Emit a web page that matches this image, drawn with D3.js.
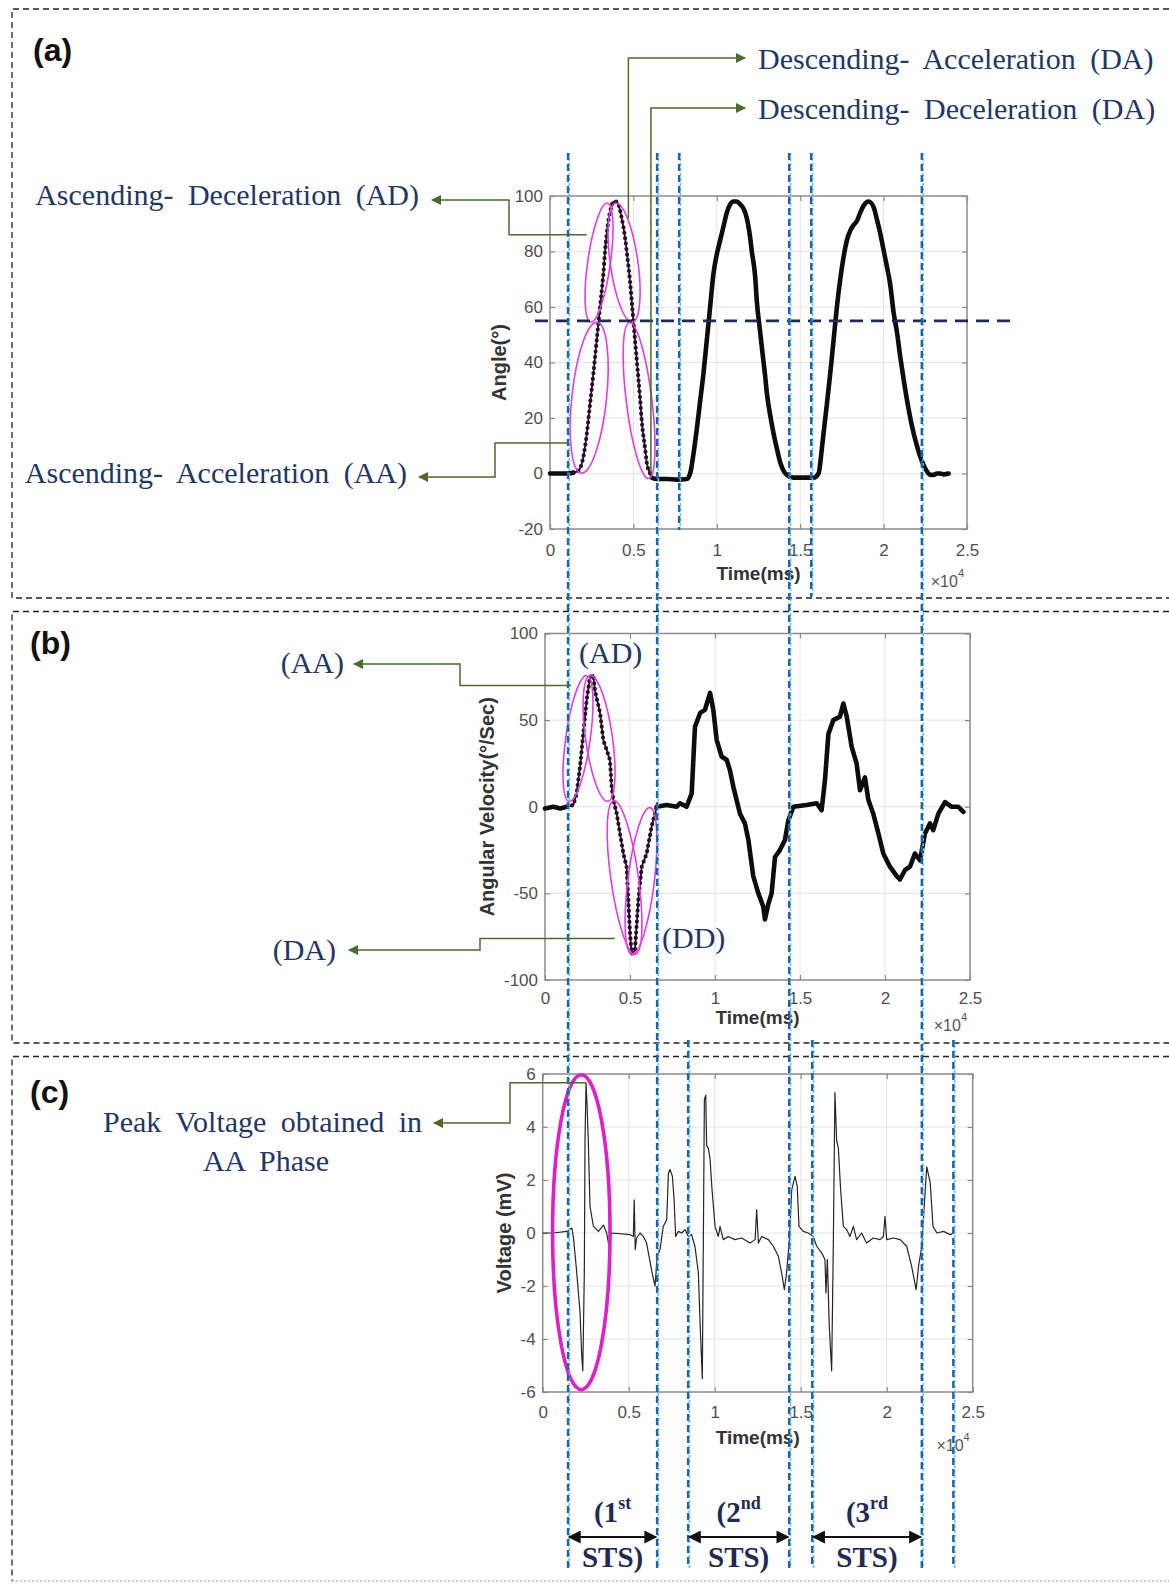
<!DOCTYPE html>
<html>
<head>
<meta charset="utf-8">
<title>Sit-to-stand phases: knee angle, angular velocity and EMG</title>
<script src="https://cdn.jsdelivr.net/npm/d3@7/dist/d3.min.js"></script>
<style>
  html, body { margin: 0; padding: 0; background: #fff; }
  svg { display: block; }
</style>
</head>
<body>
<svg id="fig" width="1169" height="1584" xmlns="http://www.w3.org/2000/svg"></svg>
<script>
// ---------------- data (time in ×10^4 ms) ----------------
const timeTicks = [0, 0.5, 1, 1.5, 2, 2.5];
const angleTicks = [-20, 0, 20, 40, 60, 80, 100];
const velocityTicks = [-100, -50, 0, 50, 100];
const voltageTicks = [-6, -4, -2, 0, 2, 4, 6];

// (a) knee angle, degrees
const angleTime = [0,0.05,0.10,0.14,0.17,0.20,0.22,0.24,0.26,0.28,
  0.30,0.32,0.33,0.35,0.37,0.38,0.40,0.41,0.43,0.45,
  0.46,0.48,0.49,0.51,0.52,0.54,0.55,0.57,0.58,0.60,
  0.61,0.64,0.70,0.76,0.82,0.84,0.86,0.88,0.90,0.92,
  0.94,0.96,0.98,1.00,1.02,1.04,1.06,1.08,1.10,1.12,
  1.14,1.16,1.18,1.20,1.21,1.23,1.24,1.26,1.27,1.29,
  1.30,1.32,1.34,1.36,1.38,1.40,1.42,1.46,1.52,1.58,
  1.61,1.63,1.64,1.66,1.68,1.70,1.72,1.74,1.76,1.78,
  1.80,1.82,1.84,1.86,1.88,1.91,1.94,1.96,1.98,2.00,
  2.02,2.04,2.06,2.08,2.10,2.12,2.14,2.16,2.18,2.20,
  2.22,2.24,2.26,2.28,2.30,2.32,2.34,2.36,2.39];
const angleDeg = [0,0,0,0.3,1,6,14,25,36,48,
  60,72,80,91,96.5,98,98,97,92,85,
  80,69,62,48,41,27,19,9,4,0,
  -1.5,-2,-2,-2.2,-2,0,7,16,26,36,
  48,60,72,79,84,89,94,97,98,98,
  97,95.5,92,85,80,71,62,51,45.5,35,
  29,21,14.5,9,4,1,-0.5,-1.5,-1.5,-1.5,
  0,9,14.5,25,36,48,60,70,78,84,
  87.5,89.5,91,94,96.5,98,96,91.5,86.5,80.5,
  74.5,68,58,51,42,34,26.5,20,14.5,10,
  6,3,0.7,-0.5,-0.5,0,0,-0.3,0];

// (b) angular velocity, degrees per second
const velocityTime = [0,0.05,0.09,0.127,0.167,0.186,0.206,0.225,0.245,0.265,
  0.284,0.294,0.324,0.343,0.363,0.382,0.392,0.402,0.422,0.441,
  0.461,0.48,0.49,0.5,0.51,0.529,0.549,0.569,0.598,0.627,
  0.657,0.716,0.775,0.794,0.833,0.863,0.882,0.912,0.941,0.971,
  0.99,1.01,1.039,1.069,1.088,1.108,1.147,1.176,1.196,1.225,
  1.255,1.284,1.294,1.314,1.333,1.353,1.382,1.412,1.431,1.461,
  1.539,1.598,1.627,1.647,1.667,1.696,1.735,1.755,1.775,1.804,
  1.833,1.853,1.882,1.902,1.931,1.961,1.99,2.029,2.069,2.088,
  2.118,2.147,2.176,2.206,2.235,2.265,2.284,2.314,2.353,2.392,
  2.431,2.461];
const velocityDegS = [-1,0,-1,0,1,7.7,23,42,61.5,75,
  76,67,54,38.5,32.7,27,11.5,4,-4,-15.4,
  -27,-34.6,-54,-73,-85,-83,-54,-34.6,-27,-11.5,
  0,1,0,2,0,7.7,46,54,56,65.7,
  56,38.5,29,27,21,11.5,-4,-9.6,-19,-40,
  -50,-57.7,-65,-56,-50,-29,-25,-19,-8,0,
  1,2,-2,15.4,42,50,52,59.6,52,34.6,
  25,9.6,17,4,-4,-15.4,-27,-34.6,-40,-42,
  -36.5,-34.6,-27,-31,-15.4,-9.6,-13.5,-4,2.7,0,
  0,-3];

// (c) EMG voltage, mV
const voltageTime = [0,0.062,0.14,0.17,0.18,0.198,0.217,0.227,0.233,0.236,
  0.242,0.246,0.252,0.258,0.265,0.275,0.295,0.324,0.353,0.372,
  0.382,0.401,0.507,0.527,0.532,0.538,0.546,0.566,0.585,0.604,
  0.633,0.653,0.666,0.682,0.701,0.721,0.731,0.740,0.754,0.764,
  0.773,0.789,0.808,0.827,0.847,0.866,0.885,0.905,0.915,0.928,
  0.934,0.940,0.948,0.953,0.963,0.973,0.983,1.002,1.021,1.031,
  1.05,1.079,1.118,1.157,1.205,1.235,1.244,1.254,1.273,1.312,
  1.341,1.370,1.389,1.405,1.418,1.434,1.448,1.467,1.48,1.49,
  1.515,1.544,1.573,1.593,1.622,1.641,1.647,1.655,1.666,1.68,
  1.69,1.699,1.709,1.719,1.732,1.748,1.767,1.786,1.806,1.825,
  1.854,1.883,1.922,1.961,1.981,1.99,2.0,2.039,2.078,2.116,
  2.145,2.171,2.185,2.204,2.218,2.233,2.253,2.269,2.292,2.33,
  2.369,2.389];
const voltageMv = [0,0,0.06,0.19,-0.25,-1.5,-3,-4.65,-5.2,-4,
  -1.5,3.5,5.67,4.8,3.5,1.0,0.25,0.06,0.3,0,
  -0.38,0,-0.06,-0.13,1.25,-0.63,-0.19,0,-0.13,-0.38,
  -1.4,-2.0,-0.88,-0.63,0.25,0.5,2.26,2.4,2.14,1.25,
  -0.13,0.06,0,0.13,-0.13,-0.06,-0.5,-1.5,-3.4,-5.5,
  -0.25,5.03,5.2,3.3,3.2,2.8,1.76,0.25,-0.13,0.25,
  -0.25,-0.13,-0.25,-0.19,-0.38,-0.25,0.88,-0.38,-0.13,-0.25,
  -0.5,-0.88,-1.5,-2.14,-1.5,-0.25,1.64,2.14,1.76,0.25,
  0.06,0,-0.13,-0.5,-0.75,-1.0,-2.26,-1.0,-3.5,-5.2,
  -0.25,5.3,3.5,3.2,1.64,0.25,0.13,-0.13,0.25,-0.25,
  0,-0.38,-0.19,-0.25,-0.13,0.63,-0.25,-0.19,-0.25,-0.5,
  -1.26,-2.14,-1.26,-0.5,1.0,2.5,1.89,0.25,0,0.06,
  -0.06,0];

// knee-angle threshold separating acceleration / deceleration halves
const angleThreshold = 55;
// phase boundaries (×10^4 ms, on the angle time axis)
const cycleBounds = [0.108, 0.642, 1.434, 2.229];   // run through all panels
const angleOnlyBounds = [0.774, 1.566];             // panel (a) only
const emgBounds = [0.828, 1.572, 2.418];            // panel (c) and below
// sit-to-stand repetitions: [start boundary, end boundary, ordinal, suffix]
const stsRanges = [[0.108, 0.642, "1", "st"], [0.828, 1.434, "2", "nd"], [1.572, 2.229, "3", "rd"]];

// phase ellipses: centre (t, v), half extents (dt, dv), tilt in degrees
const angleEllipses = [
  {t: 0.235, v: 27.3, dt: 0.104, dv: 27.3, tilt: 6},   // AA
  {t: 0.294, v: 76.0, dt: 0.068, dv: 21.6, tilt: 8},   // AD
  {t: 0.444, v: 76.0, dt: 0.083, dv: 21.6, tilt: -8},  // DA
  {t: 0.534, v: 26.3, dt: 0.077, dv: 28.3, tilt: -7}   // DD
];
const velocityEllipses = [
  {t: 0.194, v: 39.4, dt: 0.072, dv: 36.6, tilt: 8},
  {t: 0.318, v: 39.4, dt: 0.079, dv: 36.6, tilt: -8},
  {t: 0.468, v: -40.9, dt: 0.081, dv: 44.7, tilt: -8},
  {t: 0.565, v: -42.9, dt: 0.078, dv: 42.7, tilt: 7}
];
const voltageEllipses = [
  {t: 0.2244, v: 0.03, dt: 0.167, dv: 5.94, tilt: 0}
];

// ---------------- drawing ----------------
const fig = d3.select('#fig');
const navy = '#1f3766';
const leaderGreen = '#4b6a2c';
const axisGrey = '#8a8a8a';

fig.append('rect').attr('width', 1169).attr('height', 1584).attr('fill', '#fff');

const defs = fig.append('defs');
function arrowMarker(id, color, w, h) {
  defs.append('marker').attr('id', id)
    .attr('viewBox', '0 0 10 10').attr('refX', 9).attr('refY', 5)
    .attr('markerWidth', w).attr('markerHeight', h)
    .attr('markerUnits', 'userSpaceOnUse').attr('orient', 'auto-start-reverse')
    .append('path').attr('d', 'M0,0 L10,5 L0,10 Z').attr('fill', color);
}
arrowMarker('arrowGreen', leaderGreen, 13, 10);
arrowMarker('arrowBlack', '#111', 16, 13);

// dashed frames round each panel (open on the right-hand side)
const frames = [{y0: 9, y1: 598}, {y0: 611.5, y1: 1043}, {y0: 1056.5, y1: null}];
frames.forEach(f => {
  const d = f.y1 === null
    ? `M1169,${f.y0} H12 V1581`
    : `M1169,${f.y0} H12 V${f.y1} H1169`;
  fig.append('path').attr('d', d)
    .attr('fill', 'none').attr('stroke', '#222').attr('stroke-width', 1.3)
    .attr('stroke-dasharray', '6,4');
});
fig.append('line').attr('x1', 12).attr('x2', 1169).attr('y1', 1581).attr('y2', 1581)
  .attr('stroke', '#9a9a9a').attr('stroke-width', 1).attr('stroke-dasharray', '2,2');

const panels = {
  a: {left: 550, right: 967, top: 196, bottom: 529, domain: [-20, 100], ticks: angleTicks,
      title: 'Angle(°)', titleX: 499, xPad: 15, timeY: 573},
  b: {left: 545, right: 970, top: 633.5, bottom: 980, domain: [-100, 100], ticks: velocityTicks,
      title: 'Angular Velocity(°/Sec)', titleX: 487, xPad: 12, timeY: 1017},
  c: {left: 542.7, right: 972.7, top: 1074, bottom: 1392, domain: [-6, 6], ticks: voltageTicks,
      title: 'Voltage (mV)', titleX: 504, xPad: 14, timeY: 1437}
};

// plain hyphen-minus labels, as MATLAB prints them
const tickFmt = d => String(d);

Object.values(panels).forEach(p => {
  p.x = d3.scaleLinear().domain([0, 2.5]).range([p.left, p.right]);
  p.y = d3.scaleLinear().domain(p.domain).range([p.bottom, p.top]);
  const g = fig.append('g');

  // grid
  g.append('g').selectAll('line').data(timeTicks.slice(1, -1)).join('line')
    .attr('x1', d => p.x(d)).attr('x2', d => p.x(d))
    .attr('y1', p.top).attr('y2', p.bottom)
    .attr('stroke', '#e4e4e4').attr('stroke-width', 1);
  g.append('g').selectAll('line').data(p.ticks.slice(1, -1)).join('line')
    .attr('y1', d => p.y(d)).attr('y2', d => p.y(d))
    .attr('x1', p.left).attr('x2', p.right)
    .attr('stroke', '#e4e4e4').attr('stroke-width', 1);

  const styleAxis = sel => {
    sel.select('.domain').remove();
    sel.selectAll('line').attr('stroke', axisGrey).attr('stroke-width', 1.2);
    sel.selectAll('text').attr('fill', '#4f4f4f')
      .style('font-family', '"Liberation Sans", Arial, sans-serif').style('font-size', '17px');
  };
  g.append('g').attr('transform', `translate(0,${p.bottom})`)
    .call(d3.axisBottom(p.x).tickValues(timeTicks).tickSize(-5).tickPadding(p.xPad).tickFormat(tickFmt))
    .call(styleAxis);
  g.append('g').attr('transform', `translate(0,${p.top})`)
    .call(d3.axisTop(p.x).tickValues(timeTicks).tickSize(-5).tickFormat(''))
    .call(styleAxis);
  g.append('g').attr('transform', `translate(${p.left},0)`)
    .call(d3.axisLeft(p.y).tickValues(p.ticks).tickSize(-5).tickPadding(7).tickFormat(tickFmt))
    .call(styleAxis);
  g.append('g').attr('transform', `translate(${p.right},0)`)
    .call(d3.axisRight(p.y).tickValues(p.ticks).tickSize(-5).tickFormat(''))
    .call(styleAxis);

  g.append('rect').attr('x', p.left).attr('y', p.top)
    .attr('width', p.right - p.left).attr('height', p.bottom - p.top)
    .attr('fill', 'none').attr('stroke', axisGrey).attr('stroke-width', 1.5);

  // axis titles
  g.append('text').attr('x', (p.left + p.right) / 2).attr('y', p.timeY)
    .attr('text-anchor', 'middle').attr('dominant-baseline', 'central')
    .style('font-family', '"Liberation Sans", Arial, sans-serif').style('font-size', '19px')
    .style('font-weight', 'bold').attr('fill', '#333').text('Time(ms)');
  const mult = g.append('text').attr('x', p.right - 3).attr('y', p.timeY + 8)
    .attr('text-anchor', 'end').attr('dominant-baseline', 'central')
    .style('font-family', '"Liberation Sans", Arial, sans-serif').style('font-size', '16px')
    .attr('fill', '#555');
  mult.append('tspan').text('×10');
  mult.append('tspan').attr('dy', -8).style('font-size', '11px').text('4');

  g.append('text')
    .attr('transform', `translate(${p.titleX},${(p.top + p.bottom) / 2}) rotate(-90)`)
    .attr('text-anchor', 'middle').attr('dominant-baseline', 'central')
    .style('font-family', '"Liberation Sans", Arial, sans-serif').style('font-size', '20px')
    .style('font-weight', 'bold').attr('fill', '#333').text(p.title);
});

const A = panels.a, B = panels.b, C = panels.c;

// traces: the first repetition is drawn thin with sample dots, the rest as a heavy line
function drawTrace(p, ts, vs, firstFrom, firstTo, curve) {
  const pts = ts.map((t, i) => [t, vs[i]]);
  const line = d3.line().x(d => p.x(d[0])).y(d => p.y(d[1])).curve(curve);
  fig.append('path')
    .attr('d', line.defined(d => !(d[0] > firstFrom && d[0] < firstTo))(pts))
    .attr('fill', 'none').attr('stroke', '#0d0d0d').attr('stroke-width', 4.6)
    .attr('stroke-linejoin', 'round').attr('stroke-linecap', 'round');
  const first = line.defined(d => d[0] >= firstFrom && d[0] <= firstTo)(pts);
  fig.append('path').attr('d', first)
    .attr('fill', 'none').attr('stroke', '#1a1a1a').attr('stroke-width', 1.8);
  fig.append('path').attr('d', first)
    .attr('fill', 'none').attr('stroke', '#2a0b2e').attr('stroke-width', 4.2)
    .attr('stroke-linecap', 'round').attr('stroke-dasharray', '0 5.5');
}
drawTrace(A, angleTime, angleDeg, 0.14, 0.61, d3.curveMonotoneX);
drawTrace(B, velocityTime, velocityDegS, 0.127, 0.657, d3.curveLinear);

fig.append('path')
  .attr('d', d3.line().x(t => C.x(t)).y((t, i) => C.y(voltageMv[i]))(voltageTime))
  .attr('fill', 'none').attr('stroke', '#262626').attr('stroke-width', 1.2)
  .attr('stroke-linejoin', 'round');

// phase ellipses
function drawEllipses(p, list, color, width) {
  list.forEach(e => {
    const cx = p.x(e.t), cy = p.y(e.v);
    fig.append('ellipse')
      .attr('transform', `translate(${cx},${cy}) rotate(${e.tilt})`)
      .attr('rx', Math.abs(p.x(e.t + e.dt) - cx))
      .attr('ry', Math.abs(p.y(e.v + e.dv) - cy))
      .attr('fill', 'none').attr('stroke', color).attr('stroke-width', width);
  });
}
drawEllipses(A, angleEllipses, '#e03ee0', 1.6);
drawEllipses(B, velocityEllipses, '#e03ee0', 1.6);
drawEllipses(C, voltageEllipses, '#e01fc8', 3.6);

// threshold line on the angle plot
fig.append('line')
  .attr('x1', 535).attr('x2', 1012)
  .attr('y1', A.y(angleThreshold)).attr('y2', A.y(angleThreshold))
  .attr('stroke', '#1b2b55').attr('stroke-width', 2.6).attr('stroke-dasharray', '13,8');

// phase boundary lines
function phaseLine(t, y0, y1) {
  const x = A.x(t);
  fig.append('line').attr('x1', x + 1.3).attr('x2', x + 1.3).attr('y1', y0).attr('y2', y1)
    .attr('stroke', '#62c6f2').attr('stroke-width', 1.6).attr('stroke-dasharray', '3,2');
  fig.append('line').attr('x1', x).attr('x2', x).attr('y1', y0).attr('y2', y1)
    .attr('stroke', '#1d64a8').attr('stroke-width', 2.4).attr('stroke-dasharray', '7,4');
}
cycleBounds.forEach(t => phaseLine(t, 153, 1568));
phaseLine(angleOnlyBounds[0], 153, 530);
phaseLine(angleOnlyBounds[1], 153, 597);
emgBounds.forEach(t => phaseLine(t, 1040, 1568));

// leader lines with arrow heads
function leader(points, atStart) {
  fig.append('path')
    .attr('d', d3.line()(points))
    .attr('fill', 'none').attr('stroke', leaderGreen).attr('stroke-width', 1.5)
    .attr(atStart ? 'marker-start' : 'marker-end', 'url(#arrowGreen)');
}
// panel (a)
const daAnchor = [A.x(0.47), A.y(92)];
const ddAnchor = [A.x(0.605), A.y(0)];
leader([daAnchor, [daAnchor[0], 58], [745, 58]], false);
leader([ddAnchor, [ddAnchor[0], 108], [745, 108]], false);
leader([[432, 200], [509, 200], [509, A.y(86)], [A.x(0.22), A.y(86)]], true);
leader([[419, 477], [495, 477], [495, A.y(11)], [A.x(0.108), A.y(11)]], true);
// panel (b)
leader([[354, 664], [460, 664], [460, B.y(70)], [B.x(0.153), B.y(70)]], true);
leader([[349, 950], [480, 950], [480, B.y(-76)], [B.x(0.41), B.y(-76)]], true);
// panel (c): peak of the first burst
const firstBurst = voltageTime.map((t, i) => i).filter(i => voltageTime[i] < 0.4);
const peakIdx = firstBurst[d3.maxIndex(firstBurst, i => voltageMv[i])];
leader([[434, 1123], [510, 1123], [510, C.y(voltageMv[peakIdx])],
        [C.x(voltageTime[peakIdx]), C.y(voltageMv[peakIdx])]], true);

// annotation text
function note(x, y, str, anchor) {
  fig.append('text').attr('x', x).attr('y', y)
    .attr('text-anchor', anchor || 'start').attr('dominant-baseline', 'central')
    .style('font-family', '"Liberation Serif", "Times New Roman", serif')
    .style('font-size', '30px').style('word-spacing', '7px')
    .attr('fill', navy).text(str);
}
note(758, 58, 'Descending- Acceleration (DA)');
note(758, 108, 'Descending- Deceleration (DA)');
note(419, 194, 'Ascending- Deceleration (AD)', 'end');
note(407, 472, 'Ascending- Acceleration (AA)', 'end');
note(344, 662, '(AA)', 'end');
note(336, 949, '(DA)', 'end');
note(579, 652, '(AD)');
note(662, 937, '(DD)');
note(422, 1121, 'Peak Voltage obtained in', 'end');
note(266, 1160, 'AA Phase', 'middle');

// panel letters
[['(a)', 33, 50], ['(b)', 30, 643], ['(c)', 30, 1092]].forEach(([s, x, y]) => {
  fig.append('text').attr('x', x).attr('y', y).attr('dominant-baseline', 'central')
    .style('font-family', '"Liberation Sans", Arial, sans-serif').style('font-size', '32px')
    .style('font-weight', 'bold').attr('fill', '#111').text(s);
});

// sit-to-stand repetition spans
stsRanges.forEach(([t0, t1, n, suf]) => {
  const x0 = A.x(t0), x1 = A.x(t1), xm = (x0 + x1) / 2;
  fig.append('line').attr('x1', x0 + 1).attr('x2', x1 - 1).attr('y1', 1537).attr('y2', 1537)
    .attr('stroke', '#111').attr('stroke-width', 2.2)
    .attr('marker-start', 'url(#arrowBlack)').attr('marker-end', 'url(#arrowBlack)');
  const top = fig.append('text').attr('x', xm).attr('y', 1512)
    .attr('text-anchor', 'middle').attr('dominant-baseline', 'central')
    .style('font-family', '"Liberation Serif", "Times New Roman", serif')
    .style('font-size', '29px').style('font-weight', 'bold').attr('fill', '#1f2a55');
  top.append('tspan').text('(' + n);
  top.append('tspan').attr('dy', -9).style('font-size', '18px').text(suf);
  fig.append('text').attr('x', xm).attr('y', 1557)
    .attr('text-anchor', 'middle').attr('dominant-baseline', 'central')
    .style('font-family', '"Liberation Serif", "Times New Roman", serif')
    .style('font-size', '29px').style('font-weight', 'bold').attr('fill', '#1f2a55')
    .text('STS)');
});
</script>
</body>
</html>
